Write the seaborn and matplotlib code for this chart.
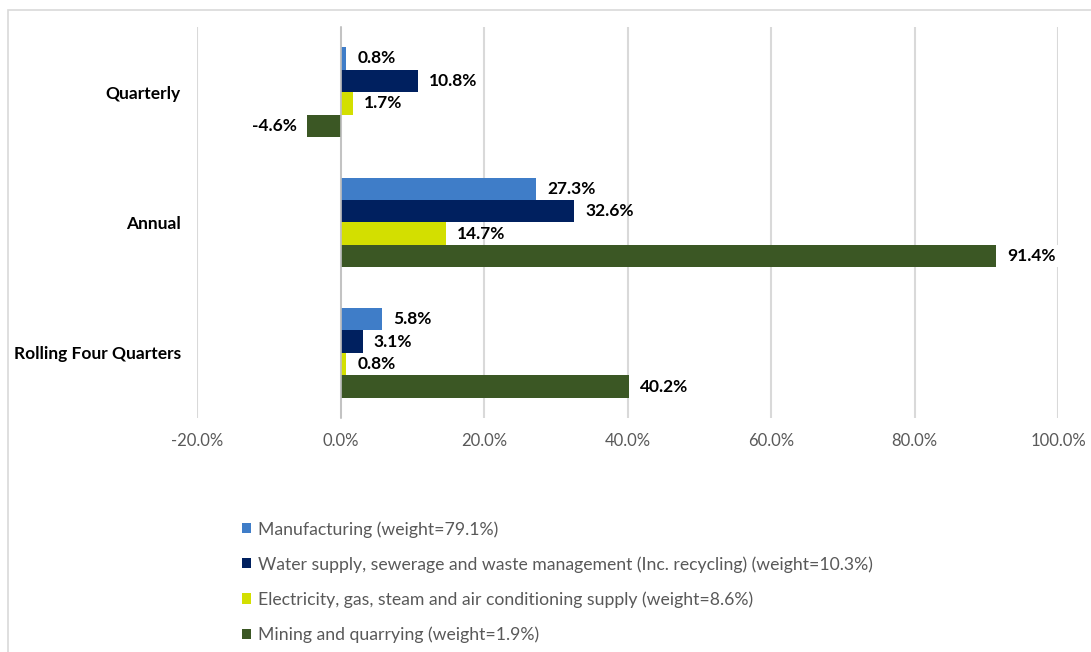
import matplotlib
matplotlib.use("Agg")
import matplotlib.pyplot as plt
import matplotlib.patches as mpatches
import seaborn as sns
import pandas as pd

categories = ["Quarterly", "Annual", "Rolling Four Quarters"]
series = [
    "Manufacturing (weight=79.1%)",
    "Water supply, sewerage and waste management (Inc. recycling) (weight=10.3%)",
    "Electricity, gas, steam and air conditioning supply (weight=8.6%)",
    "Mining and quarrying (weight=1.9%)",
]
manufacturing = [0.8, 27.3, 5.8]
water = [10.8, 32.6, 3.1]
electricity = [1.7, 14.7, 0.8]
mining = [-4.6, 91.4, 40.2]
x_ticks = [-20, 0, 20, 40, 60, 80, 100]
colors = ["#3F7DC8", "#00205F", "#D3DF00", "#3B5724"]

rows = []
for s, vals in zip(series, [manufacturing, water, electricity, mining]):
    for c, v in zip(categories, vals):
        rows.append({"category": c, "series": s, "value": v})
df = pd.DataFrame(rows)

sns.set_theme(style="white")
plt.rcParams["font.family"] = ["Lato", "DejaVu Sans"]

fig = plt.figure(figsize=(10.91, 6.52), dpi=100)
ax = fig.add_axes([197 / 1091, 1 - 418 / 652, (1058 - 197) / 1091, (418 - 27) / 652])

sns.barplot(data=df, y="category", x="value", hue="series", order=categories,
            hue_order=series, palette=colors, orient="h", width=0.69,
            saturation=1, ax=ax, legend=False, linewidth=0)

ax.set_xlim(-20, 100)
ax.set_ylim(2.5, -0.5)
ax.set_xticks(x_ticks)
ax.set_xticklabels([f"{t:.1f}%" for t in x_ticks], color="#595959", fontsize=12)
ax.tick_params(axis="x", length=0, pad=11)
ax.xaxis.grid(True, color="#D9D9D9", linewidth=1.5)
ax.set_axisbelow(True)
for side in ["top", "right", "bottom"]:
    ax.spines[side].set_visible(False)
ax.spines["left"].set_position(("data", 0))
ax.spines["left"].set_color("#BFBFBF")
ax.spines["left"].set_linewidth(1.2)
ax.spines["left"].set_zorder(3)

ax.set_yticks(range(len(categories)))
ax.set_yticklabels(categories, fontweight="bold", fontsize=12.5, color="black")
ax.tick_params(axis="y", which="major", length=0, pad=115)
ax.set_yticks([-0.5, 0.5, 1.5, 2.5], minor=True)
ax.tick_params(axis="y", which="minor", length=4, width=1.2, color="#BFBFBF", direction="out")
ax.set_xlabel("")
ax.set_ylabel("")

for container in ax.containers:
    labels = [f"{v:.1f}%" for v in container.datavalues]
    texts = ax.bar_label(container, labels=labels, padding=8, fontweight="bold",
                         fontsize=12.5, color="black")
    for t, v in zip(texts, container.datavalues):
        if v > 80:
            t.set_bbox(dict(facecolor="white", edgecolor="none", pad=2))

handles = [mpatches.Patch(facecolor=c, edgecolor="none") for c in colors]
fig.legend(handles, series, loc="upper left", bbox_to_anchor=(235 / 1091, 1 - 514 / 652),
           frameon=False, fontsize=12.7, labelcolor="#595959", handlelength=0.5,
           handleheight=0.5, handletextpad=0.4, labelspacing=1.05, borderaxespad=0)

fig.add_artist(mpatches.Rectangle((8 / 1091, -0.1), 1.2, 0.1 + (1 - 10 / 652),
                                  transform=fig.transFigure, fill=False,
                                  edgecolor="#D9D9D9", linewidth=1.2, clip_on=False))

fig.savefig("out.png", dpi=100, facecolor="white")
